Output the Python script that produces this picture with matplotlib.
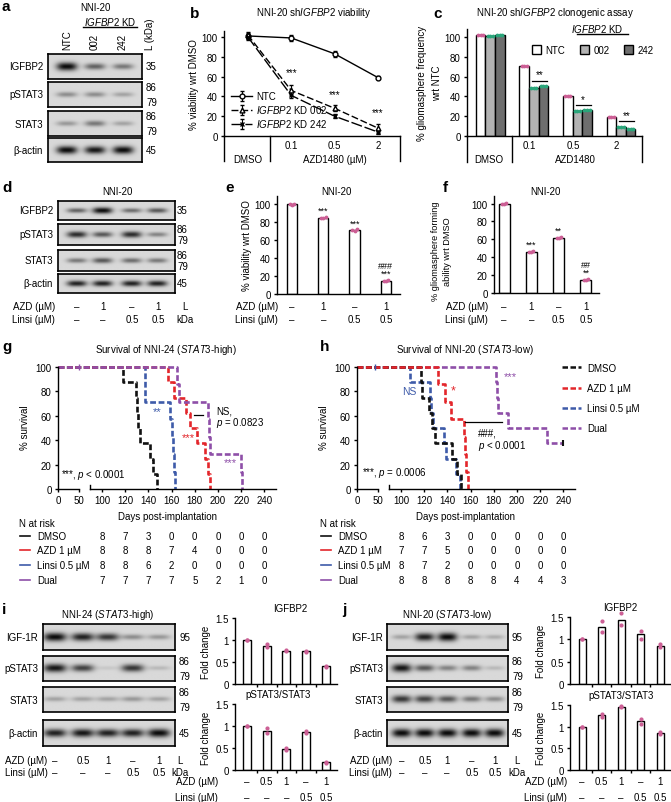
import numpy as np
import matplotlib
matplotlib.use('Agg')
import matplotlib.pyplot as plt
import matplotlib.transforms as mtransforms
from matplotlib.lines import Line2D

plt.rcParams['font.family'] = ['Liberation Sans', 'DejaVu Sans']
plt.rcParams['font.size'] = 7
plt.rcParams['mathtext.fontset'] = 'custom'
plt.rcParams['mathtext.rm'] = 'Liberation Sans'
plt.rcParams['mathtext.it'] = 'Liberation Sans:italic'
plt.rcParams['axes.linewidth'] = 1.0
plt.rcParams['xtick.major.width'] = 1.0
plt.rcParams['ytick.major.width'] = 1.0
plt.rcParams['xtick.major.size'] = 2.5
plt.rcParams['ytick.major.size'] = 2.5
plt.rcParams['xtick.major.pad'] = 2
plt.rcParams['ytick.major.pad'] = 2

# ---------------- data ----------------
# a: western blot band intensities (NTC, 002, 242)
a_rows = ['IGFBP2', 'pSTAT3', 'STAT3', 'β-actin']
a_kda = [['35'], ['86', '79'], ['86', '79'], ['45']]
a_bands = [[0.95, 0.55, 0.45], [0.35, 0.35, 0.25], [0.3, 0.45, 0.25], [0.95, 0.9, 0.95]]
a_lanes = ['NTC', '002', '242']

# b: viability
b_doses = ['DMSO', '0.1', '0.5', '2']
b_ntc = [101, 99, 83, 59]
b_ntc_err = [3, 3, 3, 1.5]
b_kd002 = [102, 46, 28, 8]
b_kd002_err = [3, 5, 3, 4]
b_kd242 = [100, 41, 20, 4]
b_kd242_err = [3, 3, 2, 2]
b_stars = ['', '***', '***', '***']
b_star_y = [0, 59, 37, 19]

# c: clonogenic assay
c_ntc = [102, 71, 40, 19]
c_kd002 = [101, 48, 25, 9]
c_kd242 = [102, 50, 26, 7]
c_stars = ['', '**', '*', '**']
c_sig_y = [0, 56, 31, 15]

# d: western blot
d_rows = ['IGFBP2', 'pSTAT3', 'STAT3', 'β-actin']
d_kda = [['35'], ['86', '79'], ['86', '79'], ['45']]
d_bands = [[0.55, 0.95, 0.5, 0.6], [0.8, 0.6, 0.8, 0.4], [0.45, 0.6, 0.5, 0.45], [0.85, 0.85, 0.85, 0.85]]
d_azd = ['–', '1', '–', '1']
d_linsi = ['–', '–', '0.5', '0.5']

# e, f: bar charts
e_vals = [100, 85, 71, 15]
e_pts = [[100, 99.5, 100.5], [85, 84.5, 85.5], [71, 70.5, 72], [15, 14, 16]]
e_stars = ['', '***', '***', '###\n***']
f_vals = [100, 46, 62, 15]
f_pts = [[100, 99, 101], [46, 45.5, 47], [62, 61.5, 62.5], [15, 14.5, 15.5]]
f_stars = ['', '***', '**', '##\n**']

# g, h: survival
g_days_dmso = [0, 118, 129, 130, 131, 133, 141, 144, 147]
g_surv_dmso = [100, 87.5, 75, 62.5, 50, 37.5, 25, 12.5, 0]
g_days_azd = [0, 157, 162, 172, 176, 182, 189, 191, 193]
g_surv_azd = [100, 87.5, 75, 62.5, 50, 37.5, 25, 12.5, 0]
g_days_linsi = [0, 137, 159, 160, 161, 162, 163]
g_surv_linsi = [100, 71.4, 57.1, 42.9, 28.6, 14.3, 0]
g_days_dual = [0, 165, 166, 191, 192, 193, 220, 221]
g_surv_dual = [100, 85.7, 71.4, 57.1, 42.9, 28.6, 14.3, 0]

h_days_dmso = [0, 117, 118, 124, 127, 129, 144, 148, 152]
h_surv_dmso = [100, 87.5, 75, 62.5, 50, 37.5, 25, 12.5, 0]
h_days_azd = [0, 132, 138, 143, 154, 155, 156, 158]
h_surv_azd = [100, 85.7, 71.4, 57.1, 42.9, 28.6, 14.3, 0]
h_days_linsi = [0, 108, 125, 126, 128, 137, 139, 147, 151]
h_surv_linsi = [100, 87.5, 75, 62.5, 50, 37.5, 25, 12.5, 0]
h_days_dual = [0, 182, 183, 184, 192, 226, 240]
h_surv_dual = [100, 87.5, 75, 62.5, 50, 37.5, 37.5]

risk_days = [100, 120, 140, 160, 180, 200, 220, 240]
groups = ['DMSO', 'AZD 1 µM', 'Linsi 0.5 µM', 'Dual']
g_risk_dmso = [8, 7, 3, 0, 0, 0, 0, 0]
g_risk_azd = [8, 8, 8, 7, 4, 0, 0, 0]
g_risk_linsi = [8, 8, 6, 2, 0, 0, 0, 0]
g_risk_dual = [7, 7, 7, 7, 5, 2, 1, 0]
h_risk_dmso = [8, 6, 3, 0, 0, 0, 0, 0]
h_risk_azd = [7, 7, 5, 0, 0, 0, 0, 0]
h_risk_linsi = [8, 7, 2, 0, 0, 0, 0, 0]
h_risk_dual = [8, 8, 8, 8, 8, 4, 4, 3]

# i, j: blots and quantification
ij_rows = ['IGF-1R', 'pSTAT3', 'STAT3', 'β-actin']
ij_kda = [['95'], ['86', '79'], ['86', '79'], ['45']]
i_bands = [[0.95, 0.85, 0.75, 0.35, 0.3], [0.9, 0.7, 0.08, 0.75, 0.15],
           [0.25, 0.25, 0.25, 0.3, 0.25], [0.85, 0.9, 0.85, 0.85, 0.95]]
j_bands = [[0.25, 0.85, 0.95, 0.25, 0.2], [0.9, 0.6, 0.4, 0.4, 0.15],
           [0.75, 0.7, 0.6, 0.45, 0.35], [0.95, 0.95, 0.95, 0.95, 0.95]]
ij_azd = ['–', '0.5', '1', '–', '1']
ij_linsi = ['–', '–', '–', '0.5', '0.5']
i_igfbp2 = [1.0, 0.87, 0.76, 0.74, 0.40]
i_igfbp2_pts = [[1.0, 1.0], [0.9, 0.84], [0.77, 0.75], [0.75, 0.73], [0.41, 0.39]]
i_pstat = [1.0, 0.89, 0.47, 0.86, 0.18]
i_pstat_pts = [[1.0, 1.0], [0.95, 0.84], [0.5, 0.45], [0.88, 0.84], [0.19, 0.17]]
j_igfbp2 = [1.0, 1.27, 1.44, 1.12, 0.85]
j_igfbp2_pts = [[1.0, 1.0], [1.4, 1.16], [1.6, 1.31], [1.18, 1.0], [0.89, 0.82]]
j_pstat = [1.0, 1.26, 1.46, 1.12, 0.86]
j_pstat_pts = [[1.0, 1.0], [1.3, 1.22], [1.47, 1.45], [1.17, 1.07], [0.88, 0.84]]

C_DMSO, C_AZD, C_LINSI, C_DUAL = '#111111', '#e3262b', '#3e5ba9', '#8e4fa8'
PINK, GREEN = '#cc5f95', '#2aa57a'

# ---------------- helpers (pixel layout) ----------------
W, H = 671, 803
fig = plt.figure(figsize=(W / 100, H / 100), dpi=100)


def add_ax(x0, y0, x1, y1):
    return fig.add_axes([x0 / W, 1 - y1 / H, (x1 - x0) / W, (y1 - y0) / H])


def txt(x, y, s, ha='center', va='center', **kw):
    fig.text(x / W, 1 - y / H, s, ha=ha, va=va, **kw)


def fline(xs, ys, color='k', lw=1.0, **kw):
    fig.add_artist(Line2D([x / W for x in xs], [1 - y / H for y in ys], color=color, lw=lw, **kw))


def xfig(ax):
    return mtransforms.blended_transform_factory(ax.transData, fig.transFigure)


def letter(x, y, s):
    txt(x, y, s, ha='left', fontsize=11, fontweight='bold')


def blot(x0, y0, x1, y1, lanes, vals, bw=0.09, bg=0.85, yc=0.5):
    ax = add_ax(x0, y0, x1, y1)
    X, Y = np.meshgrid(np.linspace(0, 1, 240), np.linspace(0, 1, 60))
    img = np.full(X.shape, bg)
    for lx, v in zip(lanes, vals):
        bh = 0.07 + 0.1 * v
        img -= v * bg * np.exp(-np.abs((X - lx) / bw) ** 3) * np.exp(-((Y - yc) / bh) ** 2)
    ax.imshow(np.clip(img, 0, 1), cmap='gray', vmin=0, vmax=1, extent=(0, 1, 0, 1),
              origin='lower', aspect='auto', interpolation='bilinear')
    ax.set_xticks([])
    ax.set_yticks([])
    for s in ax.spines.values():
        s.set_linewidth(1.2)
    return ax


def blot_stack(boxes, x0, x1, lanes, bands, names, kdas, bw, label_x, kda_x):
    for (y0, y1), vals, name, kd in zip(boxes, bands, names, kdas):
        blot(x0, y0, x1, y1, lanes, vals, bw=bw)
        txt(label_x, (y0 + y1) / 2, name, ha='right')
        if len(kd) == 1:
            txt(kda_x, (y0 + y1) / 2, kd[0], ha='left')
        else:
            txt(kda_x, y0 + 5, kd[0], ha='left')
            txt(kda_x, y1 - 5, kd[1], ha='left')


def simple_axes(ax):
    ax.spines['top'].set_visible(False)
    ax.spines['right'].set_visible(False)


# ---------------- a ----------------
letter(2, 7, 'a')
txt(95, 8, 'NNI-20')
txt(110, 22, r'$\it{IGFBP2}$ KD')
fline([83, 137], [28, 28])
for x, s in zip([67, 95, 123], a_lanes):
    txt(x, 50, s, rotation=90, va='bottom')
txt(150, 50, 'L (kDa)', rotation=90, va='bottom')
blot_stack([(55, 80), (83, 108), (112, 137), (139, 163)], 48, 142, [0.2, 0.5, 0.8],
           a_bands, a_rows, a_kda, 0.11, 43, 146)

# ---------------- b ----------------
letter(190, 14, 'b')
txt(314, 13, r'NNI-20 sh$\it{IGFBP2}$ viability')
ax = add_ax(224, 32, 400, 137)
simple_axes(ax)
xb = np.arange(len(b_doses))
ax.errorbar(xb, b_ntc, yerr=b_ntc_err, color='k', lw=1, marker='o', ms=3.5, mfc='white',
            capsize=1.5, elinewidth=0.8, label='NTC', clip_on=False)
ax.errorbar(xb, b_kd002, yerr=b_kd002_err, color='k', lw=1, ls=(0, (5, 2)), marker='^', ms=3.5,
            mfc='white', capsize=1.5, elinewidth=0.8, label=r'$\it{IGFBP2}$ KD 002', clip_on=False)
ax.errorbar(xb, b_kd242, yerr=b_kd242_err, color='k', lw=1, ls=(0, (8, 2)), marker='x', ms=3.5,
            capsize=1.5, elinewidth=0.8, label=r'$\it{IGFBP2}$ KD 242', clip_on=False)
for x, s, y in zip(xb, b_stars, b_star_y):
    ax.text(x, y, s, ha='center', va='bottom', fontsize=7)
ax.set_xlim(-0.55, 3.51)
ax.set_ylim(0, 106)
ax.set_yticks([0, 20, 40, 60, 80, 100])
ax.set_xticks([])
ax.set_ylabel('% viability wrt DMSO', labelpad=2)
ax.legend(loc='lower left', bbox_to_anchor=(0.0, 0.0), frameon=False, fontsize=7,
          handlelength=2.2, labelspacing=0.2, borderpad=0.2, handletextpad=0.4)
for x in [224, 270, 400]:
    fline([x, x], [137, 162])
for x, s in zip(xb[1:], b_doses[1:]):
    ax.text(x, 1 - 146 / H, s, transform=xfig(ax), ha='center', va='center')
ax.text(0, 1 - 160 / H, 'DMSO', transform=xfig(ax), ha='center', va='center')
ax.text(2, 1 - 160 / H, 'AZD1480 (µM)', transform=xfig(ax), ha='center', va='center')

# ---------------- c ----------------
letter(433, 14, 'c')
txt(555, 13, r'NNI-20 sh$\it{IGFBP2}$ clonogenic assay')
ax = add_ax(467, 30, 642, 137)
simple_axes(ax)
xc = np.arange(4)
bw = 0.22
ax.bar(xc - bw, c_ntc, bw, color='white', edgecolor='k', lw=1, label='NTC')
ax.bar(xc, c_kd002, bw, color='#b3b3b3', edgecolor='k', lw=1, label='002')
ax.bar(xc + bw, c_kd242, bw, color='#6e6e6e', edgecolor='k', lw=1, label='242')
for off, vals, col in [(-bw, c_ntc, PINK), (0, c_kd002, GREEN), (bw, c_kd242, GREEN)]:
    for dx in (-0.06, 0, 0.06):
        ax.scatter(xc + off + dx, vals, s=3, color=col, zorder=3, clip_on=False)
for x, s, y in zip(xc, c_stars, c_sig_y):
    if s:
        ax.plot([x - 0.04, x + 0.3], [y, y], color='k', lw=0.9)
        ax.text(x + 0.13, y + 1, s, ha='center', va='bottom', fontsize=7)
ax.set_xlim(-0.53, 3.48)
ax.set_ylim(0, 108)
ax.set_yticks([0, 20, 40, 60, 80, 100])
ax.set_xticks([])
ax.set_ylabel('% gliomasphere frequency\nwrt NTC', labelpad=2, linespacing=1.6)
ax.legend(loc='upper left', bbox_to_anchor=(527 / W, 1 - 41 / H), bbox_transform=fig.transFigure,
          ncol=3, frameon=False, fontsize=7, handlelength=0.9, handleheight=0.9,
          columnspacing=1.5, handletextpad=0.5, borderpad=0)
txt(597, 29, r'$\it{IGFBP2}$ KD')
fline([577, 628], [35, 35])
for x in [467, 512, 642]:
    fline([x, x], [137, 163])
for x, s in zip(xc[1:], b_doses[1:]):
    ax.text(x - 0.1, 1 - 146 / H, s, transform=xfig(ax), ha='center', va='center')
ax.text(-0.03, 1 - 160 / H, 'DMSO', transform=xfig(ax), ha='center', va='center')
ax.text(1.95, 1 - 160 / H, 'AZD1480', transform=xfig(ax), ha='center', va='center')

# ---------------- d ----------------
letter(2, 188, 'd')
txt(117, 192, 'NNI-20')
blot_stack([(202, 221), (225, 246), (251, 272), (275, 294)], 58, 175, [0.16, 0.38, 0.63, 0.85],
           d_bands, d_rows, d_kda, 0.085, 53, 177)
for x, a, l in zip([77, 103, 132, 158], d_azd, d_linsi):
    txt(x, 307, a)
    txt(x, 320, l)
txt(185, 307, 'L')
txt(185, 320, 'kDa')
txt(55, 307, 'AZD (µM)', ha='right')
txt(55, 320, 'Linsi (µM)', ha='right')


# ---------------- e, f ----------------
def treat_bars(box, vals, pts, stars, width, xlim, ylim, lab_x):
    ax = add_ax(*box)
    simple_axes(ax)
    xs = np.arange(len(vals))
    ax.bar(xs, vals, width, color='white', edgecolor='k', lw=1)
    for x, p in zip(xs, pts):
        ax.scatter(x + np.array([-0.07, 0, 0.07]), p, s=3, color=PINK, zorder=3, clip_on=False)
    for x, v, s in zip(xs, vals, stars):
        if s:
            ax.text(x, v + 3, s, ha='center', va='bottom', fontsize=6.5, linespacing=0.9)
    ax.set_xlim(*xlim)
    ax.set_ylim(*ylim)
    ax.set_yticks([0, 20, 40, 60, 80, 100])
    ax.set_xticks([])
    for x, a, l in zip(xs, d_azd, d_linsi):
        ax.text(x, 1 - 307 / H, a, transform=xfig(ax), ha='center', va='center')
        ax.text(x, 1 - 320 / H, l, transform=xfig(ax), ha='center', va='center')
    txt(lab_x, 307, 'AZD (µM)', ha='right')
    txt(lab_x, 320, 'Linsi (µM)', ha='right')
    return ax


letter(225, 188, 'e')
txt(336, 192, 'NNI-20')
ax = treat_bars((277, 197, 400, 295), e_vals, e_pts, e_stars, 0.33, (-0.48, 3.45), (0, 109), 278)
ax.set_ylabel('% viability wrt DMSO', labelpad=2)
letter(443, 188, 'f')
txt(545, 192, 'NNI-20')
ax = treat_bars((494, 197, 599, 294), f_vals, f_pts, f_stars, 0.4, (-0.37, 3.48), (0, 108.5), 488)
# two-line label placed by hand so it clears the panel letter
ax.text(-0.5, 0.44, '% gliomasphere forming\nability wrt DMSO', transform=ax.transAxes,
        rotation=90, ha='center', va='center', fontsize=6.6, linespacing=1.5)


# ---------------- g, h ----------------
def fwd(d):
    d = np.asarray(d, float)
    return np.where(d <= 50, d * 0.42, np.where(d <= 100, 21 + (d - 50) * 0.46, 44 + (d - 100) * 1.16))


def inv(u):
    u = np.asarray(u, float)
    return np.where(u <= 21, u / 0.42, np.where(u <= 44, 50 + (u - 21) / 0.46, 100 + (u - 44) / 1.16))


def survival(x0, curves, risks, risk_x0, lab_x):
    ax = add_ax(x0, 365, x0 + 218, 490)
    ax.set_xscale('function', functions=(fwd, inv))
    for days, surv, col in curves:
        ax.step(days, surv, where='post', color=col, lw=1.9, ls=(0, (2.2, 1.0)), clip_on=False)
    ax.set_xlim(0, 250)
    ax.set_ylim(0, 102.5)
    for s in ['top', 'right', 'bottom']:
        ax.spines[s].set_visible(False)
    ax.spines['left'].set_bounds(0, 100)
    ax.plot([0, 50], [0, 0], color='k', lw=1, clip_on=False)
    ax.plot([74, 250], [0, 0], color='k', lw=1, clip_on=False)
    ax.plot([74, 74], [0, 3], color='k', lw=1, clip_on=False)
    ax.set_xticks([0, 50] + risk_days)
    ax.set_xticklabels([str(v) for v in [0, 50] + risk_days])
    ax.set_yticks([0, 20, 40, 60, 80, 100])
    ax.set_ylabel('% survival', labelpad=4)
    ax.set_xlabel('Days post-implantation', labelpad=4)
    txt(risk_x0, 524, 'N at risk', ha='left')
    for yy, name, col, vals in zip([537, 551, 566, 581], groups, [C_DMSO, C_AZD, C_LINSI, C_DUAL], risks):
        fline([risk_x0 + 1, risk_x0 + 11], [yy, yy], color=col, lw=1.2)
        txt(lab_x, yy, name, ha='left')
        for d, v in zip(risk_days, vals):
            ax.text(d, 1 - yy / H, str(v), transform=xfig(ax), ha='center', va='center')
    return ax


letter(2, 347, 'g')
txt(166, 350, r'Survival of NNI-24 ($\it{STAT3}$-high)')
ax = survival(58, [(g_days_dmso, g_surv_dmso, C_DMSO), (g_days_linsi, g_surv_linsi, C_LINSI),
                   (g_days_azd, g_surv_azd, C_AZD), (g_days_dual, g_surv_dual, C_DUAL)],
              [g_risk_dmso, g_risk_azd, g_risk_linsi, g_risk_dual], 19, 37)
ax.plot([50], [100], marker='|', color=C_DUAL, ms=4, clip_on=False)
txt(157, 412, '**', color=C_LINSI, fontsize=8)
txt(188, 438, '***', color=C_AZD, fontsize=8)
txt(230, 463, '***', color=C_DUAL, fontsize=8)
fline([194, 203], [416, 416], lw=0.9)
txt(216, 411, 'NS,', ha='left')
txt(216, 423, r'$\it{p}$ = 0.0823', ha='left')
txt(61, 475, r'***, $\it{p}$ < 0.0001', ha='left')

letter(320, 347, 'h')
txt(465, 350, r'Survival of NNI-20 ($\it{STAT3}$-low)')
ax = survival(357, [(h_days_dual, h_surv_dual, C_DUAL), (h_days_linsi, h_surv_linsi, C_LINSI),
                    (h_days_dmso, h_surv_dmso, C_DMSO), (h_days_azd, h_surv_azd, C_AZD)],
              [h_risk_dmso, h_risk_azd, h_risk_linsi, h_risk_dual], 320, 338)
ax.plot([43], [100], marker='|', color=C_LINSI, ms=4, clip_on=False)
ax.plot([240], [37.5], marker='|', color=C_DMSO, ms=4, mew=1.5, clip_on=False)
txt(510, 377, '***', color=C_DUAL, fontsize=8)
txt(453, 391, '*', color=C_AZD, fontsize=9)
txt(409, 392, 'NS', color=C_LINSI, fontsize=7.5)
fline([465, 502], [423, 423], lw=0.9)
txt(478, 434, '###,', ha='left')
txt(478, 446, r'$\it{p}$ < 0.0001', ha='left')
txt(362, 473, r'***, $\it{p}$ = 0.0006', ha='left')
handles = [Line2D([], [], color=c, lw=1.8, ls=(0, (2.2, 1.0))) for c in [C_DMSO, C_AZD, C_LINSI, C_DUAL]]
fig.legend(handles, groups, loc='upper left', bbox_to_anchor=(557 / W, 1 - 359 / H), frameon=False,
           fontsize=7, handlelength=2.0, labelspacing=1.05, handletextpad=0.6, borderpad=0)


# ---------------- i, j ----------------
def fold_bars(box, vals, pts, width, xlim, title, title_x, xlabels=None):
    ax = add_ax(*box)
    simple_axes(ax)
    xs = np.arange(len(vals))
    ax.bar(xs, vals, width, color='white', edgecolor='k', lw=1)
    for x, p in zip(xs, pts):
        ax.scatter([x, x], p, s=4, color=PINK, zorder=3, clip_on=False)
    ax.set_xlim(*xlim)
    ax.set_ylim(0, 1.5)
    ax.set_yticks([0, 0.5, 1, 1.5])
    ax.set_yticklabels(['0', '0.5', '1', '1.5'])
    ax.set_xticks(xs[:-1] + 0.5)
    ax.set_xticklabels([])
    ax.tick_params(axis='x', length=2)
    ax.set_ylabel('Fold change', labelpad=3)
    txt(title_x, box[1] - 10, title)
    if xlabels:
        lab_x, = xlabels
        for x, a, l in zip(xs, ij_azd, ij_linsi):
            ax.text(x, 1 - 782 / H, a, transform=xfig(ax), ha='center', va='center')
            ax.text(x, 1 - 798 / H, l, transform=xfig(ax), ha='center', va='center')
        txt(lab_x, 782, 'AZD (µM)', ha='right')
        txt(lab_x, 798, 'Linsi (µM)', ha='right')
    return ax


ij_boxes = [(625, 651), (657, 682), (688, 713), (721, 747)]
letter(2, 610, 'i')
txt(108, 615, r'NNI-24 ($\it{STAT3}$-high)')
blot_stack(ij_boxes, 43, 175, [0.09, 0.3, 0.49, 0.68, 0.88], i_bands, ij_rows, ij_kda, 0.085, 38, 179)
for x, a, l in zip([55, 83, 108, 133, 159], ij_azd, ij_linsi):
    txt(x, 761, a)
    txt(x, 773, l)
txt(180, 761, 'L')
txt(180, 773, 'kDa')
txt(5, 761, 'AZD (µM)', ha='left')
txt(5, 773, 'Linsi (µM)', ha='left')
fold_bars((235, 619, 337, 685), i_igfbp2, i_igfbp2_pts, 0.4, (-0.6, 4.56), 'IGFBP2', 290)
fold_bars((235, 705, 337, 771), i_pstat, i_pstat_pts, 0.4, (-0.6, 4.56), 'pSTAT3/STAT3', 278,
          xlabels=(218,))

letter(342, 610, 'j')
txt(447, 615, r'NNI-20 ($\it{STAT3}$-low)')
blot_stack(ij_boxes, 387, 508, [0.12, 0.31, 0.5, 0.7, 0.89], j_bands, ij_rows, ij_kda, 0.08, 383, 512)
for x, a, l in zip([402, 425, 447, 472, 495], ij_azd, ij_linsi):
    txt(x, 761, a)
    txt(x, 773, l)
txt(517, 761, 'L')
txt(517, 773, 'kDa')
txt(392, 761, 'AZD (µM)', ha='right')
txt(392, 773, 'Linsi (µM)', ha='right')
fold_bars((570, 618, 670, 685), j_igfbp2, j_igfbp2_pts, 0.36, (-0.62, 4.51), 'IGFBP2', 620)
fold_bars((570, 706, 670, 771), j_pstat, j_pstat_pts, 0.36, (-0.62, 4.51), 'pSTAT3/STAT3', 621,
          xlabels=(567,))

fig.savefig('out.png', dpi=100)
